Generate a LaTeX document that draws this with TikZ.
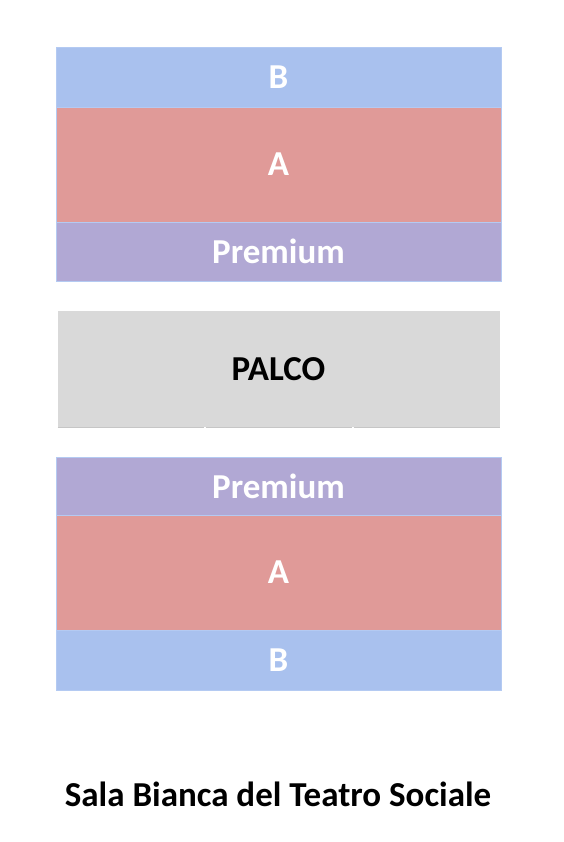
\documentclass[tikz,border=0pt]{standalone}
\usepackage{fontspec}
\setmainfont{Carlito}
\usepackage{xcolor}
\usepackage{tikz}
\usetikzlibrary{positioning}
\definecolor{SeatB}{HTML}{A9C1EE}
\definecolor{SeatA}{HTML}{E09A98}
\definecolor{SeatPremium}{HTML}{B1A8D4}
\definecolor{StageGrey}{HTML}{D9D9D9}
\definecolor{BandEdge}{HTML}{B4CAF2}

\begin{document}
\begin{tikzpicture}[
      x=1pt, y=-1pt,
      node distance=0pt,
      every node/.style={align=center, font=\fontsize{35}{40}\selectfont\bfseries},
      band/.style={draw=BandEdge, line width=0.6pt, text=white, minimum width=445pt, outer sep=0pt, inner sep=0pt},
      stage/.style={fill=StageGrey, text=black, minimum width=442pt, minimum height=116pt, outer sep=0pt, inner sep=0pt}
    ]
      \useasboundingbox (0,0) rectangle (564,842);

      % upper stalls
      \node[band, fill=SeatB, minimum height=60pt] (upB) at (278.5,77) {B};
      \node[band, fill=SeatA, minimum height=115pt, below=of upB] (upA) {A};
      \node[band, fill=SeatPremium, minimum height=59pt, below=of upA] (upPrem) {Premium};

      % stage
      \node[stage, below=30pt of upPrem] (palco) {PALCO};
      \draw[gray!45, line width=1pt, dash pattern=on 146pt off 2pt] (palco.south west) -- (palco.south east);

      % lower stalls
      \node[band, fill=SeatPremium, minimum height=58pt, below=30pt of palco] (lowPrem) {Premium};
      \node[band, fill=SeatA, minimum height=115pt, below=of lowPrem] (lowA) {A};
      \node[band, fill=SeatB, minimum height=60pt, below=of lowA] (lowB) {B};

      % Caption
      \node[anchor=base] (caption) at (278,806) {Sala Bianca del Teatro Sociale};

    \end{tikzpicture}
\end{document}
